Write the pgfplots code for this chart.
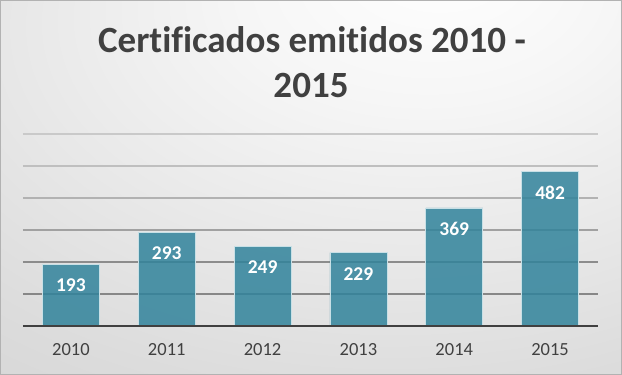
\documentclass[border=0pt]{standalone}
\usepackage{pgfplots}
\pgfplotsset{compat=1.18}
\usepackage{fontspec}
\setmainfont{Carlito}[Ligatures={NoCommon}]
\definecolor{c1}{HTML}{F6F6F6}
\definecolor{c2}{HTML}{DCDCDC}
\definecolor{c3}{HTML}{CBCBCB}
\definecolor{c4}{HTML}{BFBFBF}
\definecolor{titlegray}{HTML}{404040}
\definecolor{labelgray}{HTML}{404040}
\definecolor{axisgray}{HTML}{404040}
\definecolor{barfill}{HTML}{31839B}
\definecolor{baredge}{HTML}{C8E0E6}
\pgfdeclareradialshading{chartbg}{\pgfpoint{11bp}{31bp}}{color(0bp)=(white); color(15bp)=(c1); color(45bp)=(c2); color(70bp)=(c3); color(100bp)=(c4)}
\begin{document}
\begin{tikzpicture}
\useasboundingbox (0,0) rectangle (622pt,375pt);
\shade[shading=chartbg] (0,0) rectangle (622pt,375pt);
\draw[color=black!30, line width=1pt] (0.5pt,0.5pt) rectangle (621.5pt,374.5pt);
\node[anchor=base, inner sep=0pt, font=\fontsize{37}{44}\selectfont\bfseries, text=titlegray] at (312pt,322pt) {Certificados emitidos 2010 -};
\node[anchor=base, inner sep=0pt, font=\fontsize{37}{44}\selectfont\bfseries, text=titlegray] at (311pt,277pt) {2015};
\begin{axis}[
  at={(23pt,49pt)}, anchor=south west,
  scale only axis, width=575pt, height=192pt,
  xmin=-0.5, xmax=5.5, ymin=0, ymax=600,
  ybar, bar width=57pt,
  xtick=data, xticklabels={2010,2011,2012,2013,2014,2015},
  ytick=\empty,
  axis y line=none, axis x line*=bottom,
  x axis line style={line width=2.5pt, color=axisgray},
  xtick style={draw=none},
  xticklabel style={font=\fontsize{18.5}{20}\selectfont, text=labelgray, yshift=-10pt},
  /pgf/number format/assume math mode=true,
  nodes near coords,
  every node near coord/.append style={anchor=center, yshift=-21pt, font=\fontsize{19.5}{20}\selectfont\bfseries, text=white, text opacity=1},
  clip=false,
  axis on top,
]
\draw[color=black!47, line width=1.3pt] (axis cs:-0.5,100) -- (axis cs:5.5,100);
\draw[color=black!45, line width=1.3pt] (axis cs:-0.5,200) -- (axis cs:5.5,200);
\draw[color=black!37, line width=1.3pt] (axis cs:-0.5,300) -- (axis cs:5.5,300);
\draw[color=black!30, line width=1.3pt] (axis cs:-0.5,400) -- (axis cs:5.5,400);
\draw[color=black!25, line width=1.3pt] (axis cs:-0.5,500) -- (axis cs:5.5,500);
\draw[color=black!21, line width=1.3pt] (axis cs:-0.5,600) -- (axis cs:5.5,600);
\addplot[fill=barfill, fill opacity=0.85, draw=baredge, line width=0.8pt] coordinates {(0,193) (1,293) (2,249) (3,229) (4,369) (5,482)};
\end{axis}
\end{tikzpicture}
\end{document}
